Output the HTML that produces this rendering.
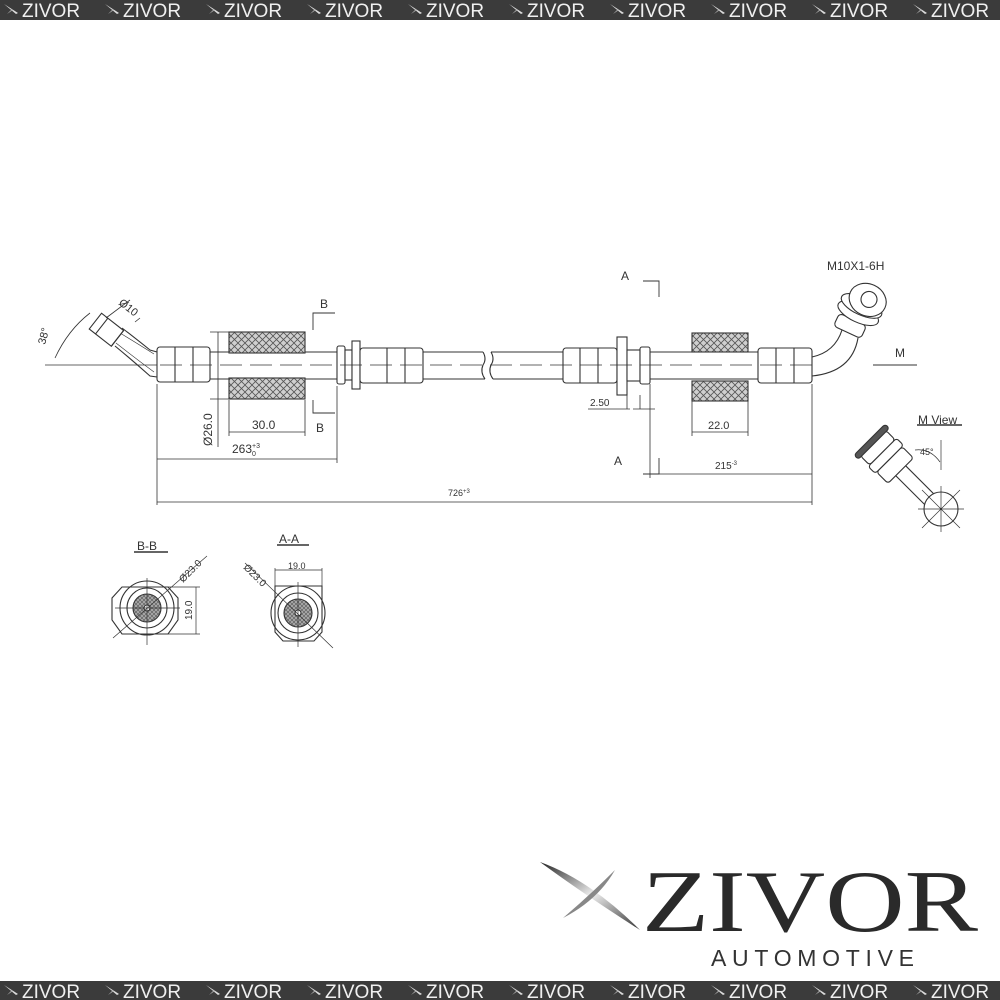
<!DOCTYPE html>
<html><head><meta charset="utf-8"><style>
html,body{margin:0;padding:0;background:#fff;width:1000px;height:1000px;overflow:hidden}
svg{display:block}
text{font-family:"Liberation Sans",sans-serif}
</style></head><body>
<svg width="1000" height="1000" viewBox="0 0 1000 1000" xmlns="http://www.w3.org/2000/svg">
<defs>
<pattern id="hx" width="7" height="7" patternUnits="userSpaceOnUse">
<rect width="7" height="7" fill="#cfcfcf"/>
<path d="M0 0L7 7M7 0L0 7" stroke="#555" stroke-width="0.8"/>
</pattern>
<pattern id="hx2" width="4" height="4" patternUnits="userSpaceOnUse">
<rect width="4" height="4" fill="#aaa"/>
<path d="M0 0L4 4M4 0L0 4" stroke="#555" stroke-width="0.6"/>
</pattern>
<linearGradient id="lg" x1="0" y1="0" x2="1" y2="1">
<stop offset="0" stop-color="#222"/><stop offset="0.5" stop-color="#eee"/><stop offset="1" stop-color="#333"/>
</linearGradient>
<g id="mk"><path d="M0 0 L14 9 L12 10 Z" fill="#ddd"/><path d="M3 10 L8 5 L9 6 Z" fill="#aaa"/></g>
</defs>

<rect x="0" y="0" width="1000" height="20" fill="#3b3b3b"/>
<rect x="0" y="981" width="1000" height="19" fill="#3b3b3b"/>
<g fill="#f0f0f0" font-size="19">
<g id="row">
<use href="#mk" x="4" y="4"/><text x="22" y="17">ZIVOR</text>
<use href="#mk" x="105" y="4"/><text x="123" y="17">ZIVOR</text>
<use href="#mk" x="206" y="4"/><text x="224" y="17">ZIVOR</text>
<use href="#mk" x="307" y="4"/><text x="325" y="17">ZIVOR</text>
<use href="#mk" x="408" y="4"/><text x="426" y="17">ZIVOR</text>
<use href="#mk" x="509" y="4"/><text x="527" y="17">ZIVOR</text>
<use href="#mk" x="610" y="4"/><text x="628" y="17">ZIVOR</text>
<use href="#mk" x="711" y="4"/><text x="729" y="17">ZIVOR</text>
<use href="#mk" x="812" y="4"/><text x="830" y="17">ZIVOR</text>
<use href="#mk" x="913" y="4"/><text x="931" y="17">ZIVOR</text>
</g>
<use href="#row" y="981"/>
</g>

<g stroke="#333" stroke-width="1.1" fill="none">
<path d="M210 352H337M210 379H337"/>
<path d="M423 352H483M423 379H485M491 352H563M493 379H563"/>
<path d="M483 352q4 7 0 13q-3 7 2 14M491 352q4 7 0 13q-3 7 2 14"/>
<path d="M650 352H758M650 379H758"/>
<rect x="157" y="347" width="53" height="35" rx="3" fill="#fff"/>
<path d="M175 347v35M193 347v35"/>
<path d="M157 352 L150 350 Q135 338 122 328 M157 377 L150 376 Q132 360 115 346"/>
<path d="M154 354 Q135 342 120 333M154 372 Q135 358 116 343" stroke-width="0.6"/>
<g transform="rotate(38 108 331)"><rect x="92" y="321" width="28" height="20" fill="#fff"/><path d="M100 321v20M120 321v20"/></g>
<path d="M45 365H157" stroke-width="0.8"/>
<path d="M55 358 Q68 330 90 313" stroke-width="0.8"/>
<path d="M106 318 L130 300M135 322 L140 318" stroke-width="0.8"/>
<rect x="229" y="332" width="76" height="21" fill="url(#hx)"/>
<rect x="229" y="378" width="76" height="21" fill="url(#hx)"/>
<rect x="337" y="346" width="8" height="38" rx="2" fill="#fff"/>
<rect x="345" y="350" width="7" height="30" fill="#fff"/>
<rect x="352" y="341" width="8" height="48" fill="#fff"/>
<rect x="360" y="348" width="63" height="35" rx="3" fill="#fff"/>
<path d="M387 348v35M405 348v35"/>
<rect x="563" y="348" width="54" height="35" rx="3" fill="#fff"/>
<path d="M580 348v35M598 348v35"/>
<rect x="617" y="337" width="10" height="58" fill="#fff"/>
<rect x="627" y="350" width="13" height="31" fill="#fff"/>
<rect x="640" y="347" width="10" height="37" rx="2" fill="#fff"/>
<rect x="692" y="333" width="56" height="19" fill="url(#hx)"/>
<rect x="692" y="381" width="56" height="20" fill="url(#hx)"/>
<rect x="758" y="348" width="54" height="35" rx="3" fill="#fff"/>
<path d="M776 348v35M794 348v35"/>
<path d="M812 357 Q835 352 842 330M812 376 Q852 372 858 338"/>
<g transform="rotate(25 862 305)">
<rect x="845" y="322" width="30" height="14" rx="4" fill="#fff"/>
<ellipse cx="862" cy="314" rx="22" ry="9" fill="#fff"/>
<ellipse cx="862" cy="306" rx="22" ry="9" fill="#fff"/>
<ellipse cx="865" cy="298" rx="19" ry="16" fill="#fff"/>
<circle cx="866" cy="297" r="8"/>
</g>
<path d="M160 365H820" stroke-dasharray="22 8" stroke-width="0.8"/>
<path d="M313 330V313H335M313 400V413H335M659 297V281H643M659 458V474H643" stroke-width="0.9"/>
<path d="M873 365H917" stroke-width="0.9"/>
<g stroke-width="0.8">
<path d="M157 384V505M337 386V463M812 384V505M650 384V478M229 400V436M305 400V436M692 401V436M748 401V436"/>
<path d="M157 459H337M157 502H812M650 474H812M229 432H305M692 432H748M218 332V447M210 332H229M210 399H229M588 409H630M633 409H655M627 395V409M640 395V409"/>
</g>
<g transform="rotate(-45 900 470)">
<rect x="893" y="470" width="14" height="45" fill="#fff"/>
<rect x="882" y="455" width="36" height="16" rx="3" fill="#fff"/>
<rect x="880" y="445" width="40" height="10" rx="3" fill="#fff"/>
<rect x="882" y="432" width="36" height="13" rx="3" fill="#fff"/>
<rect x="878" y="427" width="44" height="6" rx="3" fill="#555"/>
</g>
<circle cx="941" cy="509" r="17" fill="#fff"/>
<path d="M922 490L960 528M960 490L922 528M941 486V532M918 509H964M941 440V470M915 450 Q930 448 940 462" stroke-width="0.7"/>
<path d="M917 425H962" stroke-width="1.5"/>
<path d="M122 587H168L178 598V620L168 634H122L112 620V598Z" fill="#fff"/>
<circle cx="147" cy="608" r="27"/>
<circle cx="147" cy="608" r="20"/>
<circle cx="147" cy="608" r="14" fill="url(#hx2)"/>
<circle cx="147" cy="608" r="3" fill="#fff"/>
<path d="M113 638L207 556M147 578V645M115 608H180M168 587H200M168 634H200M196 587V634" stroke-width="0.7"/>
<path d="M134 552H168" stroke-width="1.5"/>
<path d="M275 586H322V632L314 641H283L275 632Z" fill="#fff"/>
<circle cx="298" cy="613" r="27"/>
<circle cx="298" cy="613" r="20"/>
<circle cx="298" cy="613" r="14" fill="url(#hx2)"/>
<circle cx="298" cy="613" r="3" fill="#fff"/>
<path d="M245 563L333 648M298 582V647M275 586V568M322 586V568M275 570H322" stroke-width="0.7"/>
<path d="M277 545H309" stroke-width="1.5"/>
</g>

<g fill="#333" font-size="12">
<text x="320" y="308">B</text><text x="316" y="432">B</text>
<text x="621" y="280">A</text><text x="614" y="465">A</text>
<text x="895" y="357">M</text>
<text x="827" y="270" font-size="12">M10X1-6H</text>
<text x="918" y="424">M View</text>
<text x="252" y="429" font-size="12">30.0</text>
<text x="708" y="429" font-size="11">22.0</text>
<text x="590" y="406" font-size="10">2.50</text>
<text x="232" y="453" font-size="12">263<tspan font-size="7" dy="-5">+3</tspan><tspan font-size="7" dx="-8" dy="8">0</tspan></text>
<text x="715" y="469" font-size="10">215<tspan font-size="6" dy="-4">-3</tspan></text>
<text x="448" y="496" font-size="9">726<tspan font-size="6" dy="-3">+3</tspan></text>
<text x="920" y="455" font-size="9">45°</text>
<text transform="translate(212 446) rotate(-90)" font-size="12">Ø26.0</text>
<text transform="translate(45 345) rotate(-75)" font-size="11">38°</text>
<text transform="translate(118 304) rotate(38)" font-size="11">Ø10</text>
<text x="137" y="550" font-size="12">B-B</text>
<text x="279" y="543" font-size="12">A-A</text>
<text transform="translate(183 583) rotate(-45)" font-size="10">Ø23.0</text>
<text transform="translate(243 568) rotate(45)" font-size="10">Ø23.0</text>
<text transform="translate(192 620) rotate(-90)" font-size="10">19.0</text>
<text x="288" y="569" font-size="9">19.0</text>
</g>

<path d="M540 862 Q590 880 640 930 Q585 895 540 862Z" fill="url(#lg)"/>
<path d="M563 918 Q590 895 615 870 Q598 900 563 918Z" fill="#888"/>
<text x="642" y="931" style="font-family:'Liberation Serif',serif" font-size="88" fill="#2a2a2a" textLength="336" lengthAdjust="spacingAndGlyphs">ZIVOR</text>
<text x="711" y="966" font-size="23" fill="#333" textLength="203" lengthAdjust="spacing">AUTOMOTIVE</text>
</svg>
</body></html>
